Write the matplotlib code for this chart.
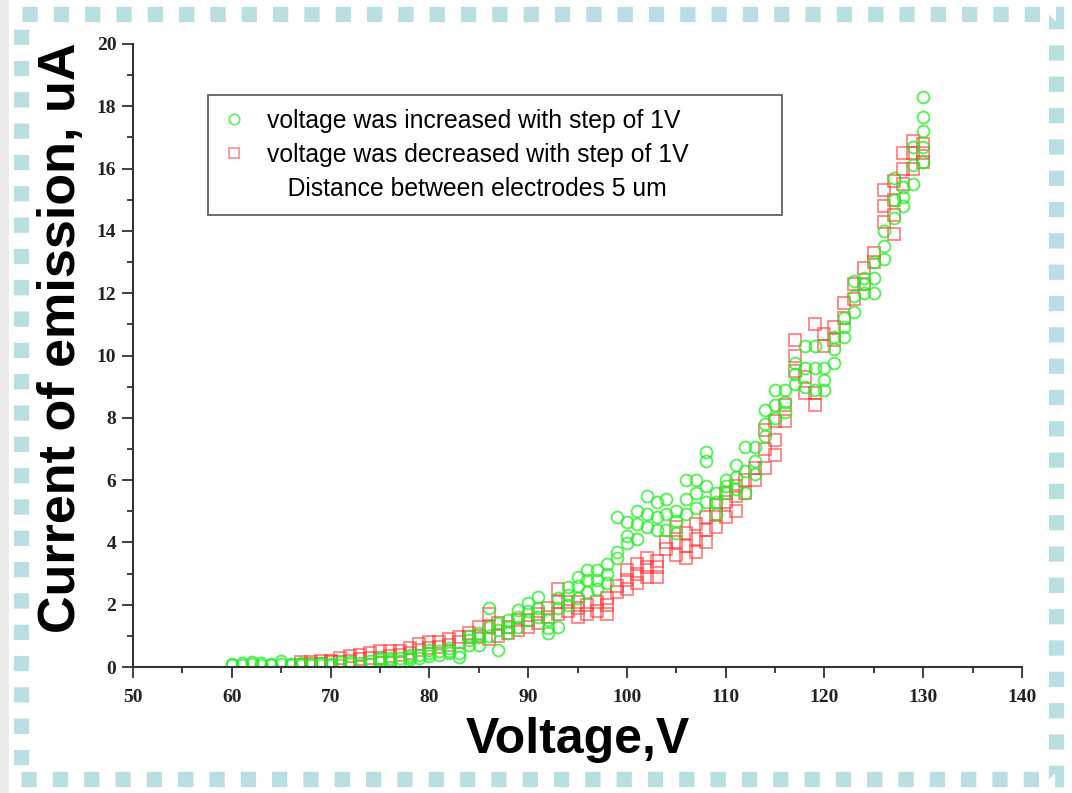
import matplotlib
matplotlib.use("Agg")
import matplotlib.pyplot as plt
from matplotlib.lines import Line2D
from matplotlib.patches import Rectangle
from matplotlib.ticker import MultipleLocator

# voltage was increased with step of 1V (several sweeps per voltage)
inc_voltage = list(range(60, 131))
inc_current = [
    [0.05, 0.1], [0.08, 0.12], [0.1, 0.15], [0.05, 0.12], [0.08, 0.1],        # 60-64
    [0.1, 0.18], [0.05, 0.1], [0.06, 0.12], [0.05, 0.1], [0.08, 0.12],        # 65-69
    [0.05, 0.1], [0.08, 0.15], [0.1, 0.15], [0.05, 0.12], [0.1, 0.18],        # 70-74
    [0.15, 0.25, 0.3], [0.15, 0.22, 0.3], [0.2, 0.28], [0.25, 0.33, 0.4],     # 75-78
    [0.3, 0.4], [0.35, 0.45, 0.55], [0.4, 0.5], [0.45, 0.5, 0.6],             # 79-82
    [0.33, 0.45], [0.7, 0.87, 1.0], [0.7, 0.95, 1.1], [1.0, 1.3, 1.9],        # 83-86
    [0.55, 1.2, 1.4], [1.1, 1.3, 1.5], [1.3, 1.6, 1.83], [1.5, 1.8, 2.05],    # 87-90
    [1.6, 1.9, 2.26], [1.1, 1.25, 1.5], [1.3, 1.9, 2.2], [2.0, 2.3, 2.58],    # 91-94
    [2.2, 2.6, 2.9], [2.4, 2.8, 3.1], [2.5, 2.8, 3.1], [2.7, 3.0, 3.3],       # 95-98
    [3.5, 3.7, 4.8], [3.97, 4.2, 4.66], [4.1, 4.6, 5.0], [4.5, 4.9, 5.5],     # 99-102
    [4.4, 4.8, 5.3], [4.4, 4.9, 5.4], [4.3, 4.7, 5.0], [4.9, 5.4, 6.0],       # 103-106
    [5.1, 5.6, 6.0], [5.3, 5.8, 6.6, 6.9], [4.9, 5.3, 5.6], [5.6, 5.8, 6.0],  # 107-110
    [5.7, 6.1, 6.5], [5.6, 6.3, 7.05], [6.2, 6.6, 7.05], [7.4, 7.8, 8.25],    # 111-114
    [8.0, 8.4, 8.9], [8.2, 8.5, 8.9], [9.1, 9.4, 9.75], [9.0, 9.6, 10.3],     # 115-118
    [8.9, 9.6, 10.3], [8.9, 9.2, 9.6], [9.75, 10.2, 10.6], [10.6, 10.9, 11.2],  # 119-122
    [11.4, 11.9, 12.4], [12.0, 12.3, 12.5], [12.0, 12.5, 13.0], [13.1, 13.5, 14.0],  # 123-126
    [14.4, 15.0, 15.7], [14.8, 15.1, 15.4], [15.5, 16.1, 16.7],               # 127-129
    [16.2, 16.7, 17.2, 17.65, 18.3],                                          # 130
]

# voltage was decreased with step of 1V
dec_voltage = list(range(67, 131))
dec_current = [
    [0.05, 0.15], [0.1, 0.15], [0.1, 0.2], [0.15, 0.2], [0.15, 0.3],          # 67-71
    [0.2, 0.35], [0.25, 0.4], [0.3, 0.45], [0.3, 0.5], [0.35, 0.5],           # 72-76
    [0.4, 0.5], [0.45, 0.6], [0.55, 0.75], [0.6, 0.8], [0.65, 0.8],           # 77-81
    [0.7, 0.9], [0.8, 0.95], [0.95, 1.1], [1.0, 1.3], [0.9, 1.3, 1.7],        # 82-86
    [1.0, 1.4], [1.1, 1.3], [1.2, 1.5], [1.3, 1.5], [1.4, 1.7],               # 87-91
    [1.6, 1.9], [1.7, 2.1, 2.5], [1.8, 2.1], [1.6, 1.9, 2.1], [1.7, 2.0],     # 92-96
    [1.8, 2.1], [1.7, 2.0, 2.2], [2.4, 2.6], [2.5, 2.8, 3.1], [2.7, 3.0, 3.3],  # 97-101
    [2.9, 3.2, 3.5], [2.9, 3.2, 3.4], [3.8, 4.0], [3.6, 4.0, 4.5],            # 102-105
    [3.5, 3.9, 4.3], [3.7, 4.1, 4.6], [4.0, 4.4, 4.8], [4.5, 4.9, 5.2],       # 106-109
    [4.8, 5.3, 5.6], [5.0, 5.5, 5.8], [5.6, 6.0], [6.0, 6.4],                 # 110-113
    [6.4, 7.0, 7.6], [6.8, 7.3, 7.9], [7.9, 8.4], [9.5, 10.0, 10.5],          # 114-117
    [8.8, 9.3], [8.4, 8.8, 11.0], [10.3, 10.7], [10.5, 10.9], [11.2, 11.7],   # 118-122
    [11.8, 12.3], [12.3, 12.8], [13.0, 13.3], [14.3, 14.8, 15.3],             # 123-126
    [13.9, 14.5, 15.0, 15.6], [15.5, 16.0, 16.5], [16.0, 16.5, 16.9],         # 127-129
    [16.2, 16.5, 16.8],                                                       # 130
]

inc_label = "voltage was increased with step of 1V"
dec_label = "voltage was decreased with step of 1V"
note_label = "   Distance between electrodes 5 um"


def flatten(voltages, currents):
    xs, ys = [], []
    for v, vals in zip(voltages, currents):
        xs.extend([v] * len(vals))
        ys.extend(vals)
    return xs, ys


inc_x, inc_y = flatten(inc_voltage, inc_current)
dec_x, dec_y = flatten(dec_voltage, dec_current)

green = "#22ee22"
red = "#ff3030"

fig = plt.figure(figsize=(10.72, 7.93), dpi=100)
ax = fig.add_axes([133 / 1072, 1 - 667 / 793, 889 / 1072, 623 / 793])

ax.plot(dec_x, dec_y, ls="none", marker="s", ms=8, mfc="none", mec=red,
        mew=1.3, alpha=0.6)
ax.plot(inc_x, inc_y, ls="none", marker="o", ms=8.5, mfc="none", mec=green,
        mew=1.4, alpha=0.75)

ax.set_xlim(50, 140)
ax.set_ylim(0, 20)
ax.xaxis.set_major_locator(MultipleLocator(10))
ax.xaxis.set_minor_locator(MultipleLocator(5))
ax.yaxis.set_major_locator(MultipleLocator(2))
ax.yaxis.set_minor_locator(MultipleLocator(1))

for side in ("top", "right"):
    ax.spines[side].set_visible(False)
for side in ("left", "bottom"):
    ax.spines[side].set_color("#333333")
    ax.spines[side].set_linewidth(1.5)

ax.tick_params(which="major", length=8, width=1.3, color="#333333")
ax.tick_params(which="minor", length=4, width=1.3, color="#333333")
ax.tick_params(axis="x", which="major", pad=8)
ax.tick_params(axis="y", which="major", pad=4)
for lab in ax.get_xticklabels() + ax.get_yticklabels():
    lab.set_fontfamily("Liberation Serif")
    lab.set_fontweight("bold")
    lab.set_fontsize(14)
    lab.set_color("#222222")

ax.set_xlabel("Voltage,V", fontfamily="Liberation Sans", fontweight="bold",
              fontsize=36, va="center")
ax.xaxis.set_label_coords(0.5, -0.117)
ax.set_ylabel("Current of emission, uA", fontfamily="Liberation Sans",
              fontweight="bold", fontsize=37.5, va="center")
ax.yaxis.set_label_coords(-0.080, 0.528)

handles = [
    Line2D([], [], ls="none", marker="o", ms=7.5, mfc="none", mec=green, mew=1.2, alpha=0.75),
    Line2D([], [], ls="none", marker="s", ms=7, mfc="none", mec=red, mew=1.1, alpha=0.6),
    Line2D([], [], ls="none"),
]
leg = ax.legend(handles, [inc_label, dec_label, note_label],
                loc="upper left", bbox_to_anchor=(0.0844, 0.5, 0.646, 0.418),
                mode="expand", borderaxespad=0, fancybox=False,
                prop={"family": "Liberation Sans", "size": 17.8},
                handlelength=1.0, handletextpad=0.85, labelspacing=0.42,
                borderpad=0.55, framealpha=1)
leg.get_frame().set_edgecolor("#555555")
leg.get_frame().set_linewidth(1.2)

# light strip on the far left and the dashed teal frame
fig.patches.append(Rectangle((0, 0), 9 / 1072, 1, transform=fig.transFigure,
                             facecolor="#ececec", edgecolor="none", zorder=0))
fig.patches.append(Rectangle((21 / 1072, 14 / 793), 1035 / 1072, 765 / 793,
                             transform=fig.transFigure, fill=False,
                             edgecolor="#b9dfe2", linewidth=11,
                             linestyle=(0, (1, 1.05)), zorder=1))

fig.savefig("out.png", dpi=100)
